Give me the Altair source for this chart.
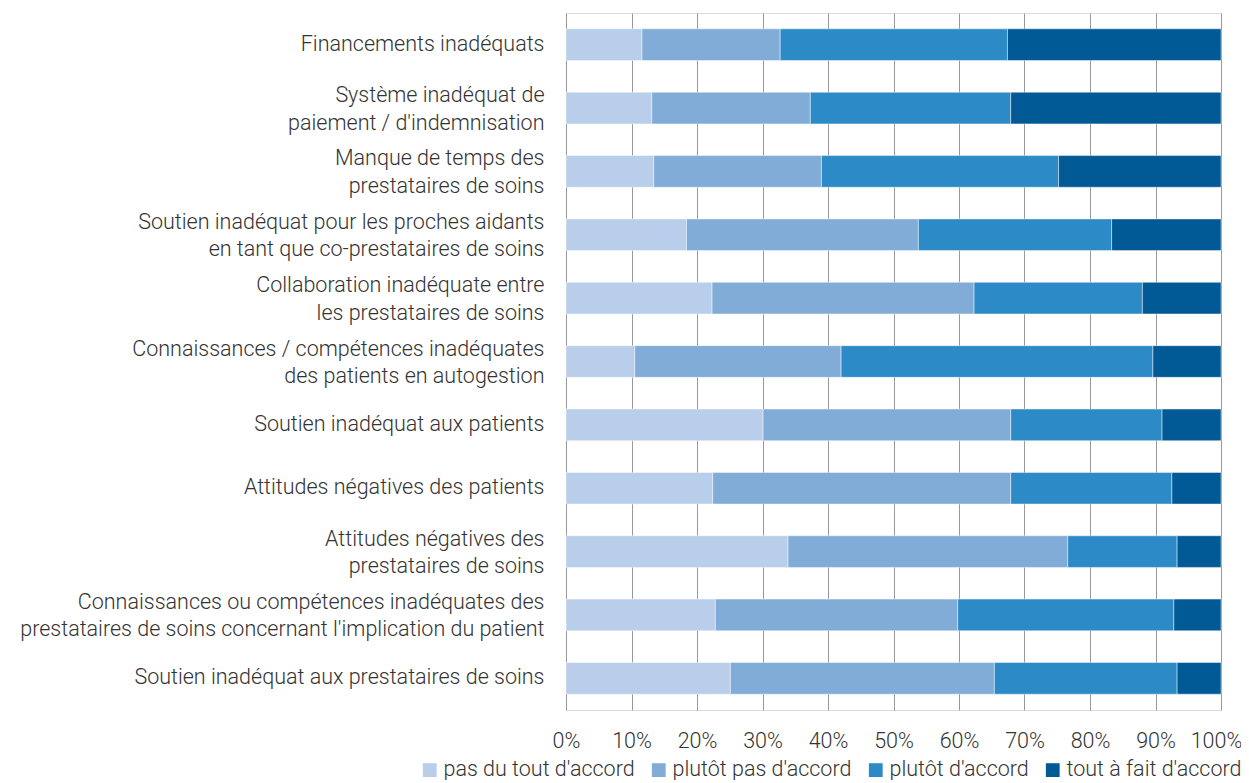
import altair as alt
import pandas as pd

categories = [
    "Financements inadéquats",
    "Système inadéquat de|paiement / d'indemnisation",
    "Manque de temps des|prestataires de soins",
    "Soutien inadéquat pour les proches aidants|en tant que co-prestataires de soins",
    "Collaboration inadéquate entre|les prestataires de soins",
    "Connaissances / compétences inadéquates|des patients en autogestion",
    "Soutien inadéquat aux patients",
    "Attitudes négatives des patients",
    "Attitudes négatives des|prestataires de soins",
    "Connaissances ou compétences inadéquates des|prestataires de soins concernant l'implication du patient",
    "Soutien inadéquat aux prestataires de soins",
]

responses = ["pas du tout d'accord", "plutôt pas d'accord", "plutôt d'accord", "tout à fait d'accord"]
colors = ["#b8ceea", "#82acd8", "#2c8bc7", "#015a96"]

pas_du_tout = [11.6, 13.1, 13.4, 18.4, 22.3, 10.5, 30.1, 22.4, 33.9, 22.8, 25.1]
plutot_pas = [21.1, 24.2, 25.6, 35.4, 40.0, 31.5, 37.8, 45.5, 42.7, 37.0, 40.3]
plutot = [34.7, 30.6, 36.2, 29.5, 25.7, 47.6, 23.1, 24.6, 16.7, 33.0, 27.9]
tout_a_fait = [32.6, 32.1, 24.8, 16.7, 12.0, 10.4, 9.0, 7.5, 6.7, 7.2, 6.7]

series = [pas_du_tout, plutot_pas, plutot, tout_a_fait]
rows = []
for ci, cat in enumerate(categories):
    for ri, resp in enumerate(responses):
        rows.append({"cat": cat, "resp": resp, "value": series[ri][ci] / 100.0, "o": ri})
df = pd.DataFrame(rows)

FONT = "Roboto"
FS = 21.5

chart = alt.Chart(df).mark_bar(
    stroke="white", strokeWidth=1, strokeOpacity=0.45
).encode(
    x=alt.X(
        "value:Q",
        stack="zero",
        scale=alt.Scale(domain=[0, 1], nice=False),
        axis=alt.Axis(
            title=None,
            values=[i / 10 for i in range(11)],
            format=".0%",
            grid=True,
            gridColor="#999999",
            gridWidth=1,
            domain=False,
            ticks=False,
            labelFontSize=FS,
            labelFont=FONT,
            labelFontWeight=300,
            labelColor="#333333",
            labelPadding=20,
            labelFlush=False,
            labelOffset={"condition": {"test": "datum.value >= 1", "value": -5}, "value": 0},
        ),
    ),
    y=alt.Y(
        "cat:N",
        sort=categories,
        scale=alt.Scale(paddingInner=0.5, paddingOuter=0.25),
        axis=alt.Axis(
            title=None,
            labelExpr="split(datum.label, '|')",
            domain=False,
            ticks=False,
            grid=False,
            labelFontSize=FS,
            labelFont=FONT,
            labelFontWeight=300,
            labelColor="#333333",
            labelPadding=22,
            labelLineHeight=27.5,
            labelLimit=0,
            labelAlign="right",
            labelBaseline="middle",
            labelOffset={"condition": {"test": "indexof(datum.value, '|') >= 0", "value": -12}, "value": 0},
        ),
    ),
    color=alt.Color(
        "resp:N",
        scale=alt.Scale(domain=responses, range=colors),
        legend=alt.Legend(
            title=None,
            orient="none",
            legendX=-147,
            legendY=746,
            padding=0,
            direction="horizontal",
            symbolType="square",
            symbolSize=190,
            symbolStrokeWidth=0,
            symbolOpacity=1,
            labelFontSize=FS,
            labelFont=FONT,
            labelFontWeight=300,
            labelColor="#333333",
            labelOffset=3,
            columnPadding=13,
            labelLimit=0,
        ),
    ),
    order=alt.Order("o:Q"),
).properties(
    width=655,
    height=697,
    autosize=alt.AutoSizeParams(type="none"),
    padding={"left": 558, "top": 5, "right": 20, "bottom": 70},
).configure_view(
    fill="#e4e4e4",
    stroke="#999999",
    strokeWidth=1.5,
).configure(
    background="white",
)

chart.save("out.html", embed_options={"renderer": "svg", "actions": False})
